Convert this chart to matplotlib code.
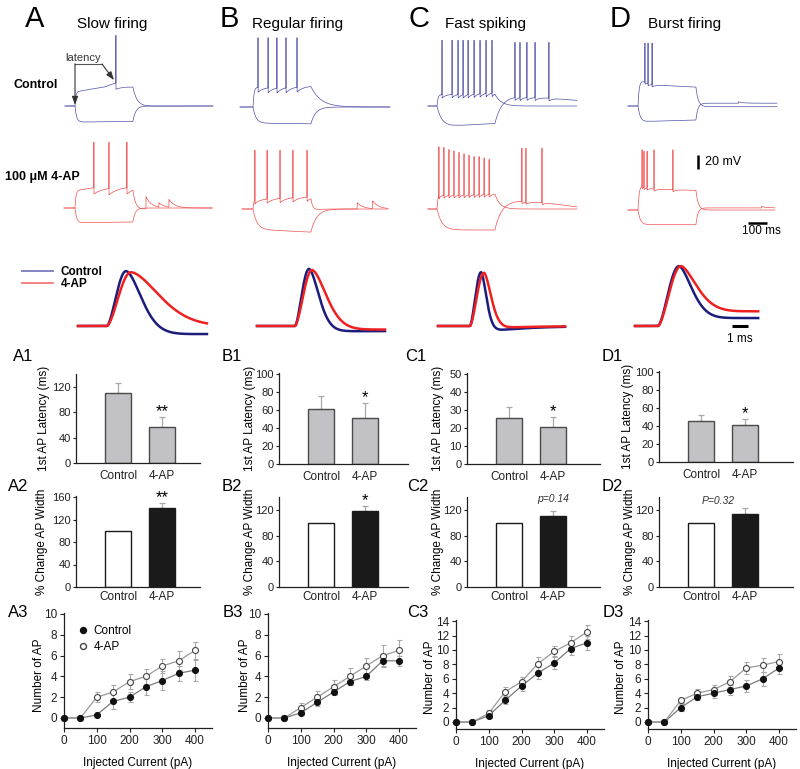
import numpy as np
import matplotlib
matplotlib.use('Agg')
import matplotlib.pyplot as plt
from matplotlib.lines import Line2D

plt.rcParams['font.family'] = ['Liberation Sans', 'DejaVu Sans']

W, H = 800, 769
fig = plt.figure(figsize=(W / 100, H / 100), dpi=100)


def fx(x):
    return x / W


def fy(y):
    return 1 - y / H


def px_axes(x0, y0, x1, y1):
    return fig.add_axes([x0 / W, 1 - y1 / H, (x1 - x0) / W, (y1 - y0) / H])


# ======================= DATA =======================
columns = ['A', 'B', 'C', 'D']
column_titles = ['Slow firing', 'Regular firing', 'Fast spiking', 'Burst firing']
bar_labels = ['Control', '4-AP']

# 1st AP latency (ms)
latency_mean = {'A': [111, 57], 'B': [61, 51], 'C': [25.5, 20.5], 'D': [46, 41]}
latency_err = {'A': [15, 16], 'B': [15, 17], 'C': [6, 5.5], 'D': [6.5, 7]}
latency_sig = {'A': '**', 'B': '*', 'C': '*', 'D': '*'}

# % change AP width
width_mean = {'A': [100, 141], 'B': [100, 118], 'C': [100, 110], 'D': [100, 113]}
width_err = {'A': [0, 8], 'B': [0, 8], 'C': [0, 8], 'D': [0, 10]}
width_sig = {'A': '**', 'B': '*', 'C': 'p=0.14', 'D': 'P=0.32'}

# Number of AP vs injected current
current_pA = [0, 50, 100, 150, 200, 250, 300, 350, 400]
nap_ctl = {'A': [0, 0, 0.3, 1.6, 2.0, 3.0, 3.6, 4.3, 4.6],
           'B': [0, 0, 0.5, 1.5, 2.5, 3.5, 4.0, 5.5, 5.5],
           'C': [0, 0, 0.9, 3.0, 5.0, 6.8, 8.2, 10.2, 11.0],
           'D': [0, 0, 2.0, 3.5, 4.0, 4.5, 5.0, 6.0, 7.5]}
nap_ctl_err = {'A': [0, 0, 0.1, 0.7, 0.5, 0.8, 0.9, 0.7, 1.0],
               'B': [0, 0, 0.2, 0.3, 0.3, 0.3, 0.3, 0.6, 0.5],
               'C': [0, 0, 0.3, 0.5, 0.7, 0.8, 0.9, 0.9, 1.0],
               'D': [0, 0, 0.5, 0.5, 0.6, 0.7, 0.8, 1.0, 0.8]}
nap_4ap = {'A': [0, 0, 2.0, 2.5, 3.5, 4.0, 5.0, 5.5, 6.5],
           'B': [0, 0, 1.0, 2.0, 3.0, 4.0, 5.0, 6.0, 6.5],
           'C': [0, 0, 1.2, 4.2, 5.6, 8.1, 9.8, 11.0, 12.5],
           'D': [0, 0, 3.0, 4.0, 4.5, 5.6, 7.5, 7.9, 8.4]}
nap_4ap_err = {'A': [0, 0, 0.5, 0.7, 0.7, 0.7, 0.7, 0.9, 0.8],
               'B': [0, 0, 0.4, 0.6, 0.7, 0.8, 0.8, 1.0, 1.0],
               'C': [0, 0, 0.4, 0.6, 0.7, 0.9, 0.8, 1.0, 1.0],
               'D': [0, 0, 0.3, 0.6, 0.7, 0.8, 0.9, 1.0, 1.0]}

# Voltage sweeps (ms relative to step onset, mV relative to rest)
STEP_MS = 300
sweep_span_ctl = {'A': (-52, 715), 'B': (-67, 710), 'C': (-47, 725), 'D': (-52, 720)}
sweep_span_4ap = {'A': (-57, 712), 'B': (-57, 700), 'C': (-47, 725), 'D': (-52, 710)}

A_ctl_dep = dict(env_t=[0, 60, 150, 210, 300], env_v=[20, 23, 27, 33, 29], tau_on=4,
                 spikes=[212], peaks=101, ahp=9, tau_ahp=60, tau_off=22)
A_ctl_hyp = dict(env_t=[0, 300], env_v=[-23, -22], tau_on=8, tau_off=15)
A_4ap_dep = dict(env_t=[0, 100, 300], env_v=[25, 29, 31], tau_on=5,
                 spikes=[98, 176, 269], peaks=94, ahp=9, tau_ahp=50, tau_off=15,
                 events=[(368, 17), (435, 6), (487, 11)], tau_ev=30)
A_4ap_hyp = dict(env_t=[0, 300], env_v=[-21, -20], tau_on=8, tau_off=12)

B_ctl_dep = dict(env_t=[0, 300], env_v=[28, 30], tau_on=5,
                 spikes=[26, 78, 124, 171, 228], peaks=99, ahp=7, tau_ahp=30, tau_off=50)
B_ctl_hyp = dict(env_t=[0, 300], env_v=[-23, -24], tau_on=15, tau_off=25)
B_4ap_dep = dict(env_t=[0, 300], env_v=[14, 18], tau_on=4,
                 spikes=[10, 73, 140, 207, 280], peaks=84, ahp=6, tau_ahp=30, tau_off=10,
                 events=[(540, 9), (620, 11)], tau_ev=30)
B_4ap_hyp = dict(env_t=[0, 300], env_v=[-29, -33], tau_on=20, tau_off=30)

C_ctl_dep = dict(env_t=[0, 300], env_v=[16, 20], tau_on=5,
                 spikes=[26, 78, 109, 135, 161, 192, 223, 254, 285], peaks=94,
                 ahp=5, tau_ahp=20, tau_off=30)
C_ctl_hyp = dict(env_t=[0, 100, 300], env_v=[-30, -28, -25], tau_on=25,
                 post_t=[300, 420, 600, 725], post_v=[14, 14, 11, 8], tau_off=35,
                 spikes=[404, 430, 466, 508, 580], peaks=91, ahp=4, tau_ahp=20)
C_4ap_dep = dict(env_t=[0, 300], env_v=[20, 22], tau_on=4,
                 spikes=[10, 36, 62, 88, 114, 140, 166, 192, 218, 244, 270],
                 peaks=[89, 88, 85, 83, 81, 79, 77, 75, 75, 73, 71],
                 ahp=4, tau_ahp=15, tau_off=25)
C_4ap_hyp = dict(env_t=[0, 300], env_v=[-30, -30], tau_on=25,
                 post_t=[300, 420, 560, 725], post_v=[12, 12, 9, 3], tau_off=35,
                 spikes=[440, 461, 544], peaks=87, ahp=3, tau_ahp=20)

D_ctl_dep = dict(env_t=[0, 90, 300], env_v=[37, 30, 27], tau_on=6,
                 spikes=[36, 52, 73], peaks=90, ahp=3, tau_ahp=15,
                 post_t=[300], post_v=[-1], tau_off=12)
D_ctl_hyp = dict(env_t=[0, 50, 300], env_v=[-24, -22, -20], tau_on=12,
                 post_t=[300], post_v=[4], tau_off=10, events=[(520, 2)])
D_4ap_dep = dict(env_t=[0, 90, 300], env_v=[36, 30, 28], tau_on=6,
                 spikes=[21, 31, 47, 83, 181], peaks=[86, 84, 84, 86, 86], ahp=3, tau_ahp=15,
                 post_t=[300], post_v=[0], tau_off=12)
D_4ap_hyp = dict(env_t=[0, 300], env_v=[-21, -21], tau_on=12,
                 post_t=[300], post_v=[3], tau_off=10, events=[(640, 2)])

sweeps_ctl = {'A': (A_ctl_dep, A_ctl_hyp), 'B': (B_ctl_dep, B_ctl_hyp),
              'C': (C_ctl_dep, C_ctl_hyp), 'D': (D_ctl_dep, D_ctl_hyp)}
sweeps_4ap = {'A': (A_4ap_dep, A_4ap_hyp), 'B': (B_4ap_dep, B_4ap_hyp),
              'C': (C_4ap_dep, C_4ap_hyp), 'D': (D_4ap_dep, D_4ap_hyp)}

# Single AP waveforms: (onset ms, peak ms, amplitude, half-decay ms, tail, tail tau ms)
ap_span = {'A': 8.06, 'B': 8.0, 'C': 7.94, 'D': 7.7}
ap_ctl = {'A': (1.81, 3.0, 0.98, 1.06, -0.16, 50),
          'B': (2.375, 3.25, 1.02, 0.69, -0.10, 50),
          'C': (2.0, 2.69, 0.96, 0.375, -0.12, 2.5),
          'D': (1.44, 2.75, 1.07, 0.95, 0.15, 100)}
ap_4ap = {'A': (1.81, 3.31, 0.96, 2.0, 0.0, 50),
          'B': (2.375, 3.44, 1.0, 1.0, -0.07, 50),
          'C': (2.0, 2.875, 0.95, 0.5, -0.05, 2.5),
          'D': (1.44, 2.875, 1.07, 1.2, 0.28, 100)}

# ======================= STYLE / LAYOUT =======================
CTL_TRACE = '#5050a8'
AP4_TRACE = '#f05050'
CTL_AP = '#1c1c7c'
AP4_AP = '#ee2020'
BAR_GRAY = '#c2c2c6'
ERR_GRAY = '#a8a8a8'
TICK_FS = 8
LAB_FS = 8.5

MS_PER_PX = 100 / 19.3
MV_PER_PX = 20 / 14
trace_origin = {'A': 75, 'B': 253, 'C': 437, 'D': 638}
ctl_base_px = {'A': 106, 'B': 107, 'C': 106, 'D': 106}
ap4_base_px = {'A': 208, 'B': 209, 'C': 209, 'D': 210}

ap_start_px = {'A': 78, 'B': 257, 'C': 438, 'D': 635}
AP_BASE_PX = 326
AP_PX_PER_MS = 16
AP_PX_PER_UNIT = 56

axis_x = {'A': 76, 'B': 279, 'C': 467, 'D': 659}
axis_right = {'A': 200, 'B': 408, 'C': 600, 'D': 793}
row1_zero = {'A': 463, 'B': 464, 'C': 464, 'D': 462}
row1_top = {'A': 140, 'B': 101, 'C': 50.5, 'D': 101}
row1_ppu = {'A': 0.633, 'B': 0.9, 'C': 1.8, 'D': 0.9}
row1_ticks = {'A': [0, 40, 80, 120], 'B': [0, 20, 40, 60, 80, 100],
              'C': [0, 10, 20, 30, 40, 50], 'D': [0, 20, 40, 60, 80, 100]}
row2_zero = 587
row2_top = {'A': 162, 'B': 140, 'C': 140, 'D': 140}
row2_ppu = {'A': 0.5625, 'B': 0.642, 'C': 0.642, 'D': 0.642}
row2_ticks = {'A': [0, 40, 80, 120, 160], 'B': [0, 40, 80, 120],
              'C': [0, 40, 80, 120], 'D': [0, 40, 80, 120]}
ylab1_x = {'A': 43, 'B': 250, 'C': 437, 'D': 628}
ylab2_x = {'A': 42, 'B': 249, 'C': 437, 'D': 629}
ylab3_x = {'A': 39, 'B': 245, 'C': 430, 'D': 621}

line_x0 = {'A': 64, 'B': 268, 'C': 456, 'D': 648}
line_zero = {'A': 718, 'B': 718, 'C': 722, 'D': 722}
line_ppu = {'A': 10.4, 'B': 10.4, 'C': 7.2, 'D': 7.2}
line_top = {'A': 10.1, 'B': 10.1, 'C': 14.15, 'D': 14.15}
line_ticks = {'A': range(0, 11, 2), 'B': range(0, 11, 2),
              'C': range(0, 15, 2), 'D': range(0, 15, 2)}
PX_PER_PA = 131 / 400
LINE_XMAX = 451

title_letter_x = {'A': 25, 'B': 220, 'C': 408, 'D': 610}
title_text_x = {'A': 77, 'B': 252, 'C': 445, 'D': 648}
lab_x = {1: {'A': 13, 'B': 222, 'C': 405, 'D': 602},
         2: {'A': 8, 'B': 222, 'C': 407, 'D': 602},
         3: {'A': 8, 'B': 223, 'C': 407, 'D': 603}}
lab_base = {1: 361, 2: 491, 3: 617}


# ======================= MODELS =======================
def sweep(t, env_t, env_v, tau_on, post_t=(300,), post_v=(0,), tau_off=20,
          spikes=(), peaks=(), ahp=0, tau_ahp=20, events=(), tau_ev=25):
    t = np.asarray(t, float)
    v = np.zeros_like(t)
    on = (t >= 0) & (t < STEP_MS)
    env = np.interp(t, env_t, env_v)
    v[on] = env[on] * (1 - np.exp(-t[on] / tau_on))
    v_end = np.interp(STEP_MS, env_t, env_v) * (1 - np.exp(-STEP_MS / tau_on))
    post = np.interp(t, post_t, post_v)
    p0 = np.interp(STEP_MS, post_t, post_v)
    off = t >= STEP_MS
    v[off] = post[off] + (v_end - p0) * np.exp(-(t[off] - STEP_MS) / tau_off)
    for ts in spikes:
        m = t > ts
        v[m] -= ahp * np.exp(-(t[m] - ts) / tau_ahp)
    for te, amp in events:
        m = t >= te
        v[m] += amp * np.exp(-(t[m] - te) / tau_ev)
    pk = np.broadcast_to(np.asarray(peaks, float), (len(spikes),))
    for ts, p in zip(spikes, pk):
        i = np.searchsorted(t, ts)
        v[i] = p
    return v


def ap_wave(t, onset, peak_t, amp, half_w, tail, tail_tau, shape=1.7):
    v = np.zeros_like(t)
    r = (t >= onset) & (t < peak_t)
    ph = (t[r] - onset) / (peak_t - onset)
    v[r] = amp * np.sin(ph * np.pi / 2) ** 1.6
    d = t >= peak_t
    s = (t[d] - peak_t) / half_w
    tl = tail * (1 - np.exp(-s)) * np.exp(-(t[d] - peak_t) / tail_tau)
    v[d] = tl + (amp - tl) * np.exp(-np.log(2) * s ** shape)
    return v


def trace_axes(ox, py):
    ax = px_axes(ox - 25, py - 80, ox + 150, py + 30)
    ax.set_xlim(-25 * MS_PER_PX, 150 * MS_PER_PX)
    ax.set_ylim(-30 * MV_PER_PX, 80 * MV_PER_PX)
    ax.axis('off')
    return ax


def style_axes(ax):
    for s in ['top', 'right']:
        ax.spines[s].set_visible(False)
    for s in ['left', 'bottom']:
        ax.spines[s].set_linewidth(0.9)
        ax.spines[s].set_color('#202020')
    ax.tick_params(labelsize=TICK_FS, width=0.8, length=2.5, pad=1.2, colors='#202020')


# ======================= TITLES =======================
for c, ttl in zip(columns, column_titles):
    fig.text(fx(title_letter_x[c]), fy(27), c, fontsize=21, ha='left', va='baseline')
    fig.text(fx(title_text_x[c]), fy(28), ttl, fontsize=11, ha='left', va='baseline')

fig.text(fx(13), fy(87.5), 'Control', fontsize=9, fontweight='bold', ha='left', va='baseline')
fig.text(fx(5), fy(180), '100 \u03bcM 4-AP', fontsize=9, fontweight='bold', ha='left', va='baseline')

# ======================= SWEEPS =======================
for c in columns:
    ox = trace_origin[c]
    ax = trace_axes(ox, ctl_base_px[c])
    t = np.arange(sweep_span_ctl[c][0], sweep_span_ctl[c][1], 0.5)
    for prm in sweeps_ctl[c]:
        ax.plot(t, sweep(t, **prm), color=CTL_TRACE, lw=0.5, clip_on=False)
    if c == 'A':
        ctl_axA = ax
    ax2 = trace_axes(ox, ap4_base_px[c])
    t = np.arange(sweep_span_4ap[c][0], sweep_span_4ap[c][1], 0.5)
    for prm in sweeps_4ap[c]:
        ax2.plot(t, sweep(t, **prm), color=AP4_TRACE, lw=0.5, clip_on=False)
    if c == 'D':
        # scale bars
        ax2.plot([311, 311], [58.5, 78.5], color='k', lw=1.8, solid_capstyle='butt', clip_on=False)
        ax2.text(346, 68.5, '20 mV', fontsize=9, ha='left', va='center')
        ax2.plot([570, 670], [-18.6, -18.6], color='k', lw=1.8, solid_capstyle='butt', clip_on=False)
        ax2.text(640, -22, '100 ms', fontsize=8.5, ha='center', va='top')

# latency annotation in A control
spk = A_ctl_dep['spikes'][0]
ctl_axA.plot([0, 140], [60, 60], color='#555555', lw=0.8)
ctl_axA.annotate('', xy=(0, 1.5), xytext=(0, 60.4),
                 arrowprops=dict(arrowstyle='-|>,head_length=0.5,head_width=0.18',
                                 color='#333333', lw=0.8, shrinkA=0, shrinkB=0))
ctl_axA.annotate('', xy=(spk - 10, 37), xytext=(140, 60),
                 arrowprops=dict(arrowstyle='-|>,head_length=0.5,head_width=0.18',
                                 color='#333333', lw=0.8, shrinkA=0, shrinkB=0))
ctl_axA.text(43, 62, 'latency', fontsize=8, ha='center', va='bottom', color='#333333')

# ======================= SINGLE APs =======================
for c in columns:
    sx = ap_start_px[c]
    ax = px_axes(sx - 5, AP_BASE_PX - 70, sx + 135, AP_BASE_PX + 15)
    ax.set_xlim(-5 / AP_PX_PER_MS, 135 / AP_PX_PER_MS)
    ax.set_ylim(-15 / AP_PX_PER_UNIT, 70 / AP_PX_PER_UNIT)
    ax.axis('off')
    t = np.linspace(0, ap_span[c], 600)
    ax.plot(t, ap_wave(t, *ap_ctl[c]), color=CTL_AP, lw=1.8, clip_on=False)
    ax.plot(t, ap_wave(t, *ap_4ap[c]), color=AP4_AP, lw=1.8, clip_on=False)
    if c == 'D':
        ax.plot([97 / 16, 113 / 16], [0, 0], color='k', lw=2.2, solid_capstyle='butt', clip_on=False)
        ax.text(105 / 16, -0.12, '1 ms', fontsize=8.5, ha='center', va='top')

fig.legend(handles=[Line2D([], [], color='#7b7bc0', lw=1.3),
                    Line2D([], [], color='#f27a7a', lw=1.3)],
           labels=['Control', '4-AP'], loc='upper left',
           bbox_to_anchor=(fx(22), fy(266)), frameon=False, borderpad=0, borderaxespad=0,
           handlelength=2.6, handletextpad=0.7, labelspacing=0.0,
           prop={'size': 8.5, 'weight': 'bold'})

# ======================= BAR PANELS =======================
def bar_panel(c, zero_px, top, ppu, ticks, means, errs, colors, edges, ylabel, ylab_px, xlab_pad):
    x0, x1 = axis_x[c], axis_right[c]
    ax = px_axes(x0, zero_px - top * ppu, x1, zero_px)
    ax.set_xlim(-42 / 44, (x1 - x0 - 42) / 44)
    ax.set_ylim(0, top)
    pos = np.arange(len(bar_labels))
    ax.bar(pos, means, width=0.59, color=colors, edgecolor=edges, linewidth=1.0, zorder=2)
    for p, m, e in zip(pos, means, errs):
        if e > 0:
            ax.errorbar([p], [m], yerr=[[0], [e]], fmt='none', ecolor=ERR_GRAY,
                        elinewidth=0.9, capsize=2, capthick=0.9, zorder=1)
    style_axes(ax)
    ax.set_yticks(ticks)
    ax.set_xticks(pos)
    ax.set_xticklabels(bar_labels, fontsize=LAB_FS)
    ax.tick_params(axis='x', length=0, pad=xlab_pad)
    ax.set_ylabel(ylabel, fontsize=LAB_FS)
    ax.yaxis.set_label_coords((ylab_px + 6.5 - x0) / (x1 - x0), 0.5)
    return ax, pos


for c in columns:
    ax, pos = bar_panel(c, row1_zero[c], row1_top[c], row1_ppu[c], row1_ticks[c],
                        latency_mean[c], latency_err[c], [BAR_GRAY, BAR_GRAY],
                        ['#4a4a4a', '#4a4a4a'], '1st AP Latency (ms)', ylab1_x[c], 5)
    ax.annotate(latency_sig[c], xy=(pos[1], latency_mean[c][1] + latency_err[c][1]),
                xytext=(0, 0.5), textcoords='offset points', ha='center', va='baseline',
                fontsize=12)

    ax, pos = bar_panel(c, row2_zero, row2_top[c], row2_ppu[c], row2_ticks[c],
                        width_mean[c], width_err[c], ['white', '#1a1a1a'],
                        ['#1a1a1a', '#1a1a1a'], '% Change AP Width', ylab2_x[c], 3)
    top_val = width_mean[c][1] + width_err[c][1]
    if width_sig[c].startswith('*'):
        ax.annotate(width_sig[c], xy=(pos[1], top_val), xytext=(0, 0.5),
                    textcoords='offset points', ha='center', va='baseline', fontsize=12)
    elif c == 'C':
        ax.annotate(width_sig[c], xy=(pos[1], top_val), xytext=(0, 7),
                    textcoords='offset points', ha='center', va='baseline',
                    fontsize=7.5, style='italic', color='#333333')
    else:
        ax.annotate(width_sig[c], xy=(0.4, top_val), xytext=(0, 3),
                    textcoords='offset points', ha='center', va='baseline',
                    fontsize=7.5, style='italic', color='#333333')

# ======================= LINE PANELS =======================
for c in columns:
    x0 = line_x0[c]
    zero = line_zero[c]
    ppu = line_ppu[c]
    ax = px_axes(x0, zero - line_top[c] * ppu, x0 + LINE_XMAX * PX_PER_PA, zero + 1 * ppu)
    ax.set_xlim(0, LINE_XMAX)
    ax.set_ylim(-1, line_top[c])
    ax.plot(current_pA, nap_ctl[c], color='#7a7a7a', lw=0.9, zorder=2)
    ax.plot(current_pA, nap_4ap[c], color='#9a9a9a', lw=0.9, zorder=2)
    ax.errorbar(current_pA, nap_ctl[c], yerr=nap_ctl_err[c], fmt='none', ecolor=ERR_GRAY,
                elinewidth=0.8, capsize=1.8, capthick=0.8, zorder=1, clip_on=False)
    ax.errorbar(current_pA, nap_4ap[c], yerr=nap_4ap_err[c], fmt='none', ecolor=ERR_GRAY,
                elinewidth=0.8, capsize=1.8, capthick=0.8, zorder=1, clip_on=False)
    ax.plot(current_pA, nap_ctl[c], ls='none', marker='o', ms=4.3, mfc='#111111',
            mec='#111111', mew=0.8, zorder=4, clip_on=False)
    ax.plot(current_pA, nap_4ap[c], ls='none', marker='o', ms=4.3, mfc='white',
            mec='#444444', mew=0.8, zorder=3, clip_on=False)
    style_axes(ax)
    ax.tick_params(length=3, pad=2, labelsize=8.5)
    ax.set_xticks([0, 100, 200, 300, 400])
    ax.set_yticks(list(line_ticks[c]))
    ax.set_xlabel('Injected Current (pA)', fontsize=LAB_FS, labelpad=7)
    ax.set_ylabel('Number of AP', fontsize=LAB_FS)
    w_px = LINE_XMAX * PX_PER_PA
    ax.yaxis.set_label_coords((ylab3_x[c] + 6.5 - x0) / w_px, 0.5 - 0.4 / (line_top[c] + 1))
    if c == 'A':
        ax.legend(handles=[Line2D([], [], ls='none', marker='o', ms=4.3, mfc='#111111', mec='#111111'),
                           Line2D([], [], ls='none', marker='o', ms=4.3, mfc='white', mec='#444444')],
                  labels=['Control', '4-AP'], loc='upper left',
                  bbox_to_anchor=(fx(77), fy(625)), bbox_transform=fig.transFigure,
                  frameon=False, borderpad=0, borderaxespad=0, handlelength=1.0,
                  handletextpad=0.4, labelspacing=0.35, fontsize=8.5)

# ======================= PANEL LABELS =======================
for row in (1, 2, 3):
    for c in columns:
        fig.text(fx(lab_x[row][c]), fy(lab_base[row]), f'{c}{row}', fontsize=12,
                 ha='left', va='baseline')

fig.savefig('out.png', dpi=100)
